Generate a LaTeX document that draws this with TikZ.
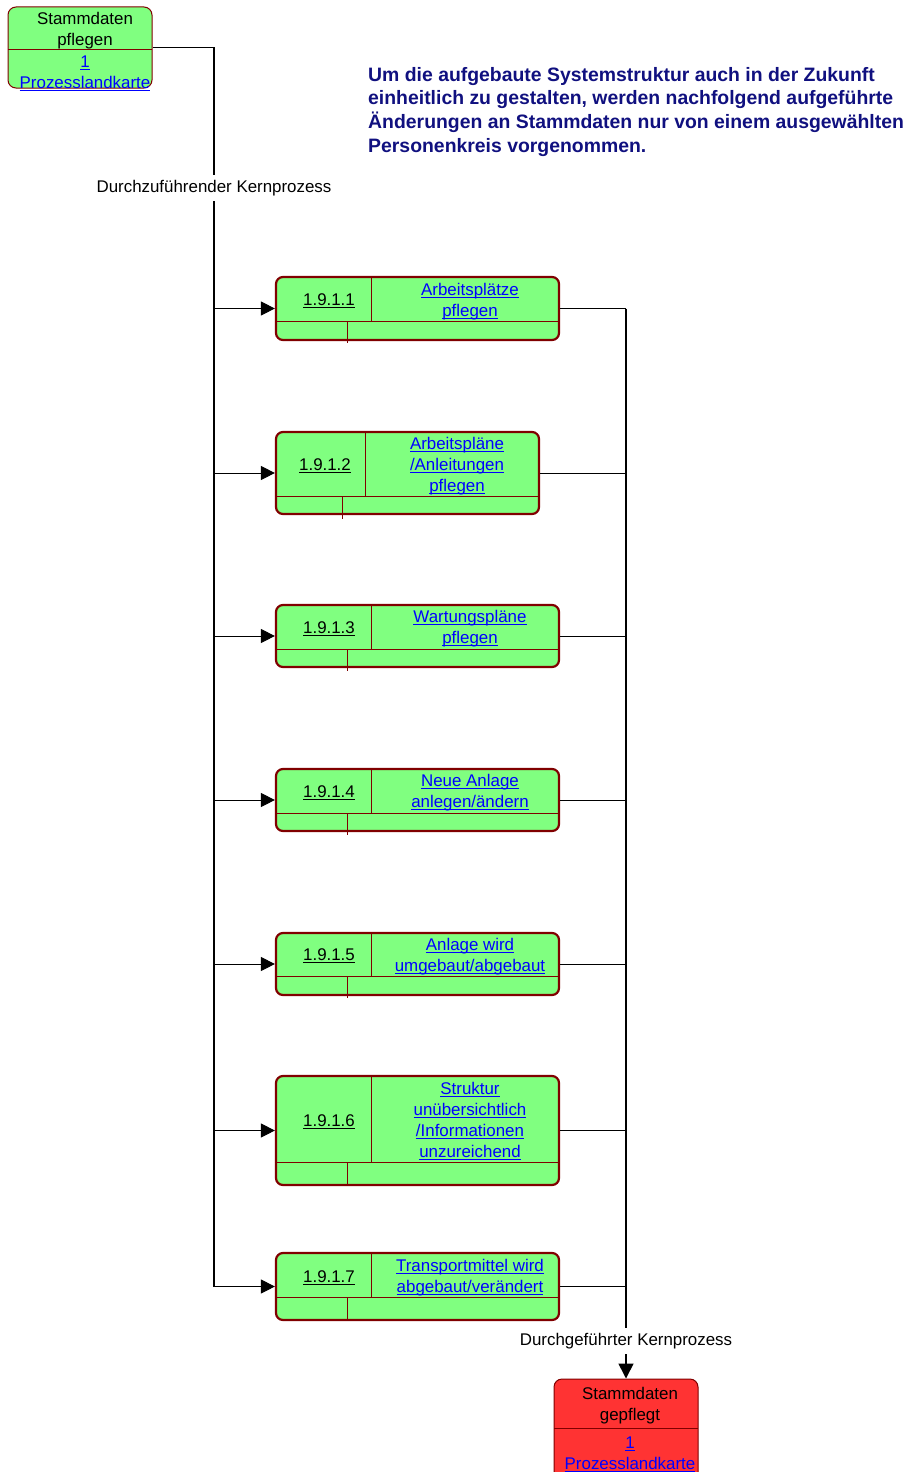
\documentclass[tikz,border=0pt]{standalone}
\usepackage{fontspec}
\setmainfont{Liberation Sans}
\usetikzlibrary{arrows.meta}
\definecolor{boxgreen}{HTML}{80FF80}
\definecolor{boxred}{HTML}{FF3333}
\definecolor{frame}{HTML}{800000}
\definecolor{navy}{HTML}{10107F}
\definecolor{link}{HTML}{0000FF}
\newsavebox\lkbox
\newcommand\lk[1]{\sbox\lkbox{#1}\rlap{\rule[-2.6pt]{\wd\lkbox}{1.3pt}}\usebox\lkbox}
\begin{document}
\begin{tikzpicture}[x=1pt,y=-1pt,
  pbox/.style={draw=frame, line width=2.2pt, fill=boxgreen, rounded corners=7pt, inner sep=0pt},
  ebox/.style={draw=frame, line width=1pt, rounded corners=8pt, inner sep=0pt},
  txt/.style={font=\fontsize{16.9}{21}\selectfont, align=center, inner sep=0pt},
  lnk/.style={txt, text=link},
  div/.style={draw=frame, line width=1pt},
  flow/.style={draw=black, line width=1pt},
  trunk/.style={draw=black, line width=1.6pt},
  arr/.style={flow, -{Triangle[length=14pt,width=14pt]}},
  lbl/.style={txt, fill=white, inner xsep=2pt, inner ysep=5pt},
  note/.style={font=\fontsize{19.4}{23.7}\selectfont\bfseries, text=navy, align=left, inner sep=0pt}
]
\useasboundingbox (0,0) rectangle (909,1472);
\clip (0,0) rectangle (909,1472);

% start node
\node[ebox, fill=boxgreen, minimum width=144pt, minimum height=81pt] (s) at (80,47.5) {};
\draw[div] (8,50) -- (152,50);
\node[txt] (s1) at (85,30.5) {Stammdaten\\pflegen};
\node[lnk] (s2) at (85,73.5) {\lk{1}\\\lk{Prozesslandkarte}};

% note
\node[note, anchor=north west] (n) at (368,67) {Um die aufgebaute Systemstruktur auch in der Zukunft\\einheitlich zu gestalten, werden nachfolgend aufgeführte\\Änderungen an Stammdaten nur von einem ausgewählten\\Personenkreis vorgenommen.};

% process boxes
\node[pbox, minimum width=283pt, minimum height=63pt] (p1) at (417.5,308.5) {};
\node[pbox, minimum width=263pt, minimum height=82pt] (p2) at (407.5,473) {};
\node[pbox, minimum width=283pt, minimum height=62pt] (p3) at (417.5,636) {};
\node[pbox, minimum width=283pt, minimum height=62pt] (p4) at (417.5,800) {};
\node[pbox, minimum width=283pt, minimum height=62pt] (p5) at (417.5,964) {};
\node[pbox, minimum width=283pt, minimum height=109pt] (p6) at (417.5,1130.5) {};
\node[pbox, minimum width=283pt, minimum height=67pt] (p7) at (417.5,1286.5) {};

% dividers
\draw[div] (277,321) -- (558,321) (371,278) -- (371,321) (347,321) -- (347,343);
\draw[div] (277,496) -- (538,496) (365,433) -- (365,496) (342,496) -- (342,519);
\draw[div] (277,649) -- (558,649) (371,606) -- (371,649) (347,649) -- (347,671);
\draw[div] (277,813) -- (558,813) (371,770) -- (371,813) (347,813) -- (347,835);
\draw[div] (277,976) -- (558,976) (371,934) -- (371,976) (347,976) -- (347,998);
\draw[div] (277,1162) -- (558,1162) (371,1077) -- (371,1162) (347,1162) -- (347,1184);
\draw[div] (277,1297) -- (558,1297) (371,1254) -- (371,1297) (347,1297) -- (347,1319);

% texts
\node[txt] (i1) at (329,301) {\lk{1.9.1.1}};
\node[lnk] (t1) at (470,301.5) {\lk{Arbeitsplätze}\\\lk{pflegen}};
\node[txt] (i2) at (325,466) {\lk{1.9.1.2}};
\node[lnk] (t2) at (457,466.5) {\lk{Arbeitspläne}\\\lk{/Anleitungen}\\\lk{pflegen}};
\node[txt] (i3) at (329,629) {\lk{1.9.1.3}};
\node[lnk] (t3) at (470,629) {\lk{Wartungspläne}\\\lk{pflegen}};
\node[txt] (i4) at (329,793) {\lk{1.9.1.4}};
\node[lnk] (t4) at (470,792.5) {\lk{Neue Anlage}\\\lk{anlegen/ändern}};
\node[txt] (i5) at (329,956) {\lk{1.9.1.5}};
\node[lnk] (t5) at (470,956.5) {\lk{Anlage wird}\\\lk{umgebaut/abgebaut}};
\node[txt] (i6) at (329,1122) {\lk{1.9.1.6}};
\node[lnk] (t6) at (470,1121.5) {\lk{Struktur}\\\lk{unübersichtlich}\\\lk{/Informationen}\\\lk{unzureichend}};
\node[txt] (i7) at (329,1278) {\lk{1.9.1.7}};
\node[lnk] (t7) at (470,1277.5) {\lk{Transportmittel wird}\\\lk{abgebaut/verändert}};

% end node
\node[ebox, fill=boxred, minimum width=144pt, minimum height=102pt] (e) at (626,1430) {};
\draw[div] (554,1428) -- (698,1428);
\node[txt] (e1) at (630,1405.5) {Stammdaten\\gepflegt};
\node[lnk] (e2) at (630,1454.5) {\lk{1}\\\lk{Prozesslandkarte}};

% left trunk
\coordinate (tl) at (214,47.5);
\draw[trunk] (s.east) -- (tl) -- (tl |- p7.west);
\foreach \p in {p1,p2,p3,p4,p5,p6,p7}
  \draw[arr] (tl |- \p.west) -- (\p.west);
\node[lbl] (la) at (214,188) {Durchzuführender Kernprozess};

% right trunk
\foreach \p in {p1,p2,p3,p4,p5,p6,p7}
  \draw[flow] (\p.east) -- (\p.east -| e.north);
\draw[trunk, -{Triangle[length=15pt,width=15pt]}] (p1.east -| e.north) -- (e.north);
\node[lbl] (lb) at (626,1341) {Durchgeführter Kernprozess};
\end{tikzpicture}
\end{document}
